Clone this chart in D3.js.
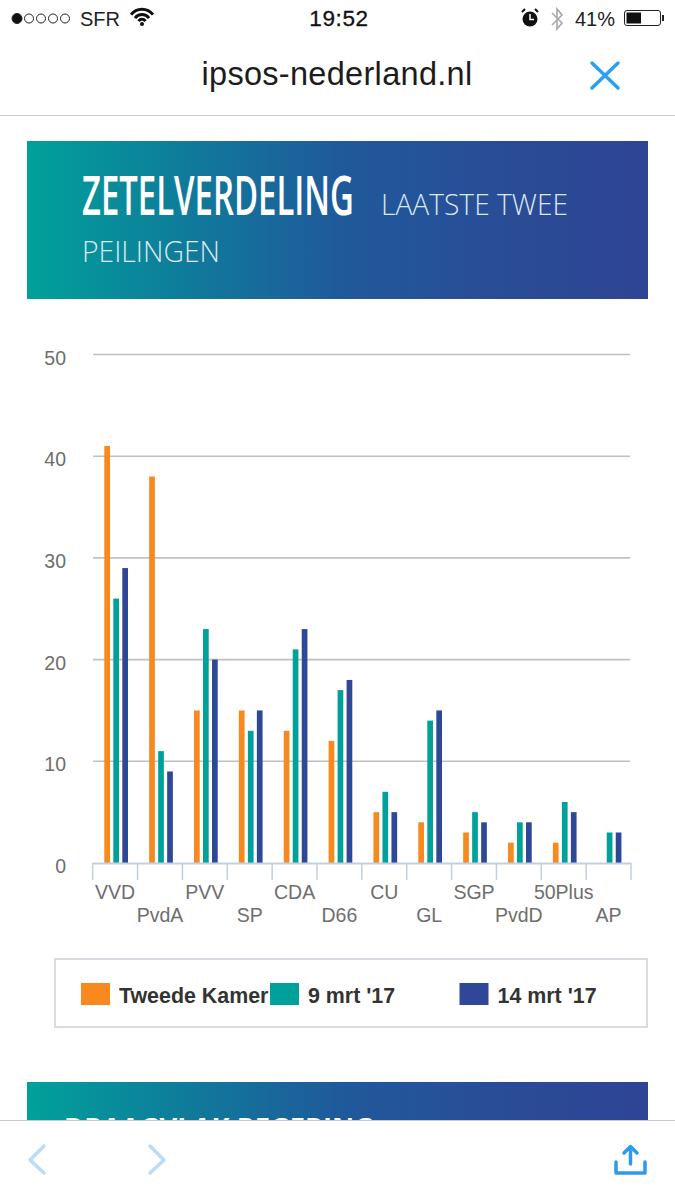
<!DOCTYPE html>
<html><head><meta charset="utf-8">
<script src="https://cdn.jsdelivr.net/npm/d3@7/dist/d3.min.js"></script>
<style>html,body{margin:0;padding:0;background:#fff}svg{display:block}text{font-family:"Liberation Sans",Arial,sans-serif}</style>
</head><body><svg id="c" width="675" height="1200"></svg>
<script>
const categories=["VVD","PvdA","PVV","SP","CDA","D66","CU","GL","SGP","PvdD","50Plus","AP"];
const tweedeKamer=[41,38,15,15,13,12,5,4,3,2,2,0];
const mrt9=[26,11,23,13,21,17,7,14,5,4,6,3];
const mrt14=[29,9,20,15,23,18,5,15,4,4,5,3];
const seriesNames=["Tweede Kamer","9 mrt '17","14 mrt '17"];
const seriesColors=["#f7891f","#00a19a","#2e4797"];
const yTicks=[0,10,20,30,40,50];

const svg=d3.select("#c");
const defs=svg.append("defs");
const g=defs.append("linearGradient").attr("id","hdr");
[[0,"#00a19a"],[0.25,"#0f7c9b"],[0.5,"#1f5a9b"],[0.75,"#294d97"],[1,"#2e4494"]].forEach(([o,c])=>
  g.append("stop").attr("offset",o).attr("stop-color",c));

// squeeze a text horizontally to a given width
function fit(sel,x,y,w){
  const n=sel.node(); const len=n.getComputedTextLength();
  sel.attr("transform",`translate(${x},${y}) scale(${w/len},1)`);
  return sel;
}
const banner=(txt,size,weight,fill)=>svg.append("text").attr("fill",fill).attr("font-size",size).attr("font-weight",weight).style("font-family","'Open Sans'").text(txt);

// header banner
svg.append("rect").attr("x",27).attr("y",141).attr("width",621).attr("height",158).attr("fill","url(#hdr)");
fit(banner("ZETELVERDELING",54,600,"#fff"),82,215,272);
fit(banner("LAATSTE TWEE",29,300,"#dce8f0"),381,215,187);
fit(banner("PEILINGEN",29,300,"#dce8f0"),82,262,138);

// chart
const y=d3.scaleLinear().domain([0,50]).range([863,354.5]);
const x=d3.scaleBand().domain(categories).range([92.7,631]);
const xs=d3.scaleBand().domain(seriesNames).range([11.6,35.3]).paddingInner(0.367);

svg.append("g").selectAll("line").data(yTicks.filter(d=>d>0)).join("line")
  .attr("x1",93).attr("x2",630).attr("y1",d=>y(d)).attr("y2",d=>y(d))
  .attr("stroke","#c0c0c0").attr("stroke-width",1.6);
svg.append("g").selectAll("text").data(yTicks).join("text")
  .attr("x",66).attr("y",d=>y(d)+10).attr("text-anchor","end")
  .attr("font-size",19.5).attr("fill","#6e6e6e").text(d=>d);

[tweedeKamer,mrt9,mrt14].forEach((vals,si)=>{
  svg.append("g").selectAll("rect").data(vals.map((v,i)=>({v,c:categories[i]}))).join("rect")
    .attr("x",d=>x(d.c)+xs(seriesNames[si])).attr("width",xs.bandwidth())
    .attr("y",d=>y(d.v)).attr("height",d=>y(0)-y(d.v))
    .attr("fill",seriesColors[si]);
});

// x axis
const ax=svg.append("g");
ax.append("line").attr("x1",92.7).attr("x2",631).attr("y1",863.5).attr("y2",863.5).attr("stroke","#c0d0e0").attr("stroke-width",2);
const tickVals=categories.map(c=>x(c)).concat([x.range()[1]]);
ax.selectAll("line.t").data(tickVals).join("line").attr("class","t")
  .attr("x1",d=>d).attr("x2",d=>d).attr("y1",863).attr("y2",880).attr("stroke","#c0d0e0").attr("stroke-width",1.5);
ax.selectAll("text").data(categories).join("text")
  .attr("x",d=>x(d)+x.bandwidth()/2).attr("y",(d,i)=>i%2?922:899)
  .attr("text-anchor","middle").attr("font-size",19.5).attr("fill","#6e6e6e").text(d=>d);

// legend
svg.append("rect").attr("x",55).attr("y",959).attr("width",592).attr("height",68).attr("fill","none").attr("stroke","#d8dce2").attr("stroke-width",2);
const lx=d3.scaleOrdinal().domain(seriesNames).range([81,270,459.5]);
const lg=svg.append("g").selectAll("g").data(seriesNames).join("g");
lg.append("text").attr("x",d=>lx(d)+38).attr("y",1003).attr("font-size",21.4).attr("font-weight",700).attr("fill","#333").text(d=>d);
lg.append("rect").attr("x",d=>lx(d)).attr("y",983).attr("width",29).attr("height",22).attr("fill",(d,i)=>seriesColors[i]);

// second banner, clipped by toolbar
svg.append("rect").attr("x",27).attr("y",1082).attr("width",621).attr("height",60).attr("fill","url(#hdr)");
fit(banner("DRAAGVLAK REGERING",27,700,"#fff"),64,1136.5,310);

// toolbar
svg.append("rect").attr("x",0).attr("y",1120).attr("width",675).attr("height",80).attr("fill","#fff");
svg.append("line").attr("x1",0).attr("x2",675).attr("y1",1120.5).attr("y2",1120.5).attr("stroke","#c4c8cc");
const ic=(d,c)=>svg.append("path").attr("d",d).attr("fill","none").attr("stroke",c).attr("stroke-width",3.5).attr("stroke-linecap","round").attr("stroke-linejoin","round");
ic("M44,1146L30,1160L44,1173","#b9dcf8");
ic("M150,1146L164,1160L150,1173","#b9dcf8");
ic("M616,1162V1173H645V1162","#2a9cf0");
ic("M630.5,1164V1147M624,1153L630.5,1146.5L637,1153","#2a9cf0");

// top chrome
svg.append("line").attr("x1",0).attr("x2",675).attr("y1",115.5).attr("y2",115.5).attr("stroke","#c8ced4");
svg.append("text").attr("x",337).attr("y",85).attr("text-anchor","middle").attr("font-size",32.5).attr("fill","#1c1c1c").attr("letter-spacing",0.3).text("ipsos-nederland.nl");
ic("M592,63L618,88M618,63L592,88","#2aa0f0");
svg.append("g").selectAll("circle").data([0,1,2,3,4]).join("circle")
  .attr("cx",d=>17+d*12).attr("cy",18.5).attr("r",d=>d?4.5:5)
  .attr("fill",d=>d?"none":"#111").attr("stroke","#222").attr("stroke-width",1);
svg.append("text").attr("x",80).attr("y",26).attr("font-size",20).attr("fill","#222").text("SFR");
svg.append("text").attr("x",339).attr("y",26).attr("text-anchor","middle").attr("font-size",22.5).attr("fill","#111").attr("stroke","#111").attr("stroke-width",0.3).attr("letter-spacing",0.6).text("19:52");
svg.append("text").attr("x",575).attr("y",26).attr("font-size",20).attr("fill","#222").text("41%");
// wifi
[[11,3],[7,3],[3.5,3]].forEach(([r,w])=>svg.append("path").attr("d",`M${142-r},${24-r*0.85}A${r*1.25},${r*1.25} 0 0 1 ${142+r},${24-r*0.85}`).attr("fill","none").attr("stroke","#111").attr("stroke-width",w));
svg.append("circle").attr("cx",142).attr("cy",24).attr("r",2).attr("fill","#111");
// alarm
svg.append("circle").attr("cx",530).attr("cy",19).attr("r",7.5).attr("fill","#111");
svg.append("path").attr("d","M530,14V19.5H534").attr("fill","none").attr("stroke","#fff").attr("stroke-width",1.5);
svg.append("path").attr("d","M522,12L525,9M538,12L535,9").attr("stroke","#111").attr("stroke-width",2);
// bluetooth
svg.append("path").attr("d","M552,13L562,23L557,29V9L562,15L552,25").attr("fill","none").attr("stroke","#a8a8a8").attr("stroke-width",1.6);
// battery
svg.append("rect").attr("x",624.5).attr("y",10.5).attr("width",36).attr("height",15).attr("rx",2.5).attr("fill","none").attr("stroke","#222");
svg.append("rect").attr("x",626.5).attr("y",12.5).attr("width",14.5).attr("height",11).attr("fill","#111");
svg.append("rect").attr("x",662).attr("y",15).attr("width",2).attr("height",6).attr("fill","#222");
</script></body></html>
